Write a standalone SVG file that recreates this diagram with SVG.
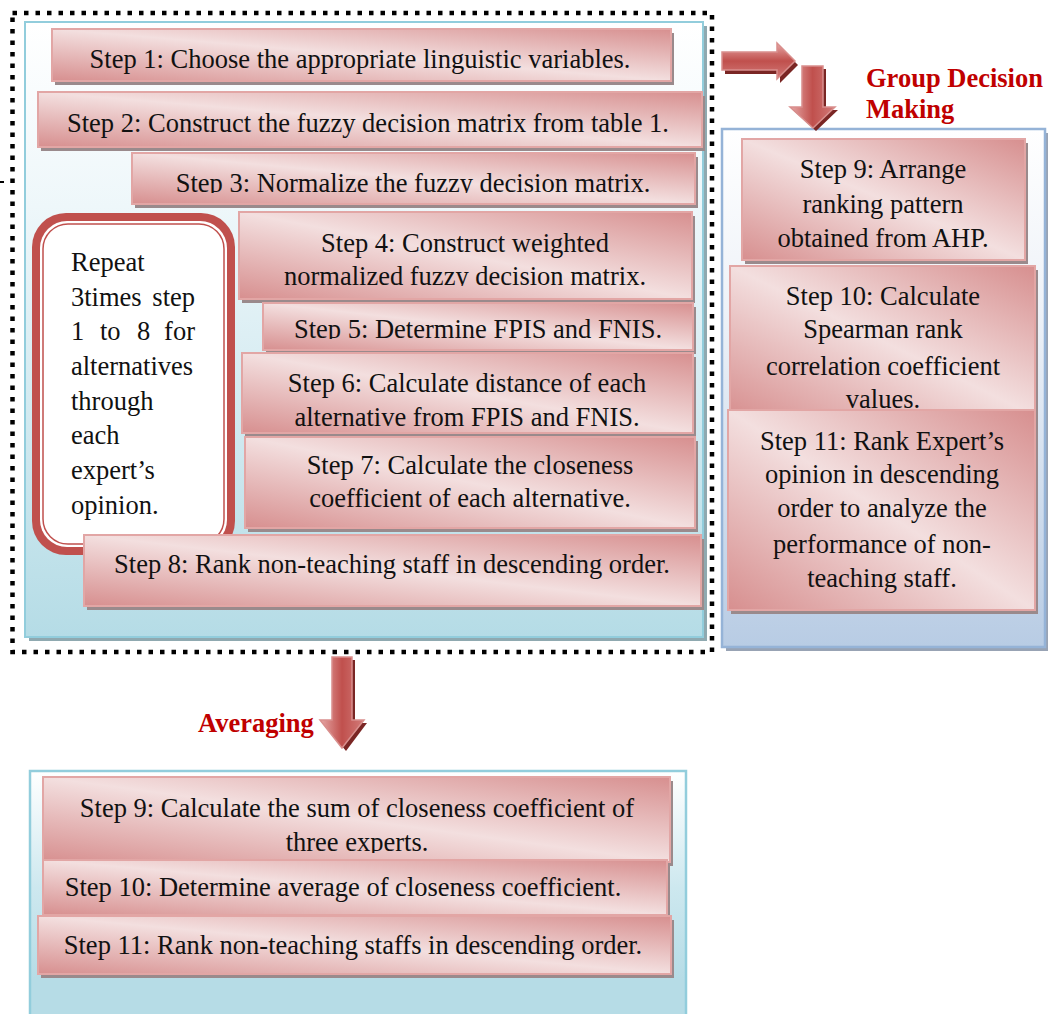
<svg xmlns="http://www.w3.org/2000/svg" width="1048" height="1014" viewBox="0 0 1048 1014">
  <defs>
    <linearGradient id="pink" x1="0" y1="1" x2="1" y2="0">
      <stop offset="0" stop-color="#d78f8f"/>
      <stop offset="0.5" stop-color="#f3dfdf"/>
      <stop offset="1" stop-color="#d78f8f"/>
    </linearGradient>
    <linearGradient id="panelBlue" x1="0" y1="0" x2="0" y2="1">
      <stop offset="0" stop-color="#ffffff"/>
      <stop offset="0.3" stop-color="#eef7fa"/>
      <stop offset="1" stop-color="#b5dce6"/>
    </linearGradient>
    <linearGradient id="panelSteel" x1="0" y1="0" x2="0" y2="1">
      <stop offset="0" stop-color="#ffffff"/>
      <stop offset="0.35" stop-color="#eef2f8"/>
      <stop offset="1" stop-color="#b8cce4"/>
    </linearGradient>
    <linearGradient id="panelLow" x1="0" y1="0" x2="0" y2="1">
      <stop offset="0" stop-color="#ffffff"/>
      <stop offset="0.45" stop-color="#cde8ef"/>
      <stop offset="0.8" stop-color="#b6dce6"/>
      <stop offset="1" stop-color="#b6dce6"/>
    </linearGradient>
    <linearGradient id="arrowV" x1="0" y1="0" x2="1" y2="0">
      <stop offset="0" stop-color="#e6a7a6"/>
      <stop offset="0.5" stop-color="#c0504d"/>
      <stop offset="1" stop-color="#d27b79"/>
    </linearGradient>
    <linearGradient id="arrowH" x1="0" y1="0" x2="0" y2="1">
      <stop offset="0" stop-color="#e6a7a6"/>
      <stop offset="0.5" stop-color="#c0504d"/>
      <stop offset="1" stop-color="#d27b79"/>
    </linearGradient>
    <clipPath id="clipS3"><rect x="130" y="150" width="570" height="43"/></clipPath>
    <clipPath id="clipS4"><rect x="235" y="210" width="460" height="76"/></clipPath>
    <clipPath id="clipS5"><rect x="260" y="300" width="440" height="39"/></clipPath>
    <clipPath id="clipR9"><rect x="740" y="136" width="290" height="111"/></clipPath>
    <clipPath id="clipB9"><rect x="40" y="775" width="640" height="78"/></clipPath>
  </defs>
  <style>
    .sh { fill: #9a8a8c; }
    .bx { fill: url(#pink); stroke: #e2a6a5; stroke-width: 2; }
    .t { font-family: "Liberation Serif", "Times New Roman", serif; font-size: 26.5px; fill: #111111; text-anchor: middle; }
    .tl { font-family: "Liberation Serif", "Times New Roman", serif; font-size: 26.5px; fill: #111111; }
    .lbl { font-family: "Liberation Serif", "Times New Roman", serif; font-size: 26.5px; font-weight: bold; fill: #c00000; }
    .ash { fill: #7a2624; }
    .arr { stroke: #d98f8d; stroke-width: 1.5; }
  </style>

  <!-- panels -->
  <g id="panel-expert">
    <rect x="29" y="26" width="678" height="615" fill="#8fa9b0"/>
    <rect x="25" y="22" width="678" height="615" fill="url(#panelBlue)" stroke="#92cddc" stroke-width="2"/>
  </g>
  <g id="panel-group">
    <rect x="726" y="133" width="323" height="518" fill="#98a3b4"/>
    <rect x="722" y="129" width="323" height="518" fill="url(#panelSteel)" stroke="#95b3d7" stroke-width="2.5"/>
  </g>
  <g id="panel-averaging">
    <rect x="30" y="771" width="656" height="260" fill="url(#panelLow)" stroke="#92cddc" stroke-width="2.5"/>
  </g>

  <!-- dotted frame around the per-expert steps -->
  <g id="frame">
    <rect x="12.5" y="13" width="699.5" height="639" fill="none" stroke="#000" stroke-width="4.5" stroke-dasharray="4.5 7"/>
    <line x1="0" y1="182" x2="4" y2="182" stroke="#000" stroke-width="2"/>
  </g>

  <!-- left column: steps 1-8 -->
  <g id="step1">
    <rect class="sh" x="55" y="33" width="619" height="52"/>
    <rect class="bx" x="52" y="29" width="619" height="52"/>
    <text class="t" x="360" y="68">Step 1: Choose the appropriate linguistic variables.</text>
  </g>
  <g id="step2">
    <rect class="sh" x="41" y="96" width="664" height="55"/>
    <rect class="bx" x="38" y="92" width="664" height="55"/>
    <text class="t" x="368" y="132">Step 2: Construct the fuzzy decision matrix from table 1.</text>
  </g>
  <g id="step3">
    <rect class="sh" x="135" y="157" width="563" height="51"/>
    <rect class="bx" x="132" y="153" width="563" height="51"/>
    <text class="t" x="413" y="192" clip-path="url(#clipS3)">Step 3: Normalize the fuzzy decision matrix.</text>
  </g>

  <g id="repeat-note">
    <rect x="32" y="213" width="203" height="342" rx="34" fill="#c0504d"/>
    <rect x="40" y="221" width="187" height="326" rx="27" fill="#ffffff"/>
    <rect x="43" y="224" width="181" height="320" rx="25" fill="#ffffff" stroke="#c0504d" stroke-width="1.5"/>
    <text class="tl" x="71" y="271">Repeat</text>
    <text class="tl" y="306"><tspan x="71">3times</tspan><tspan x="195" text-anchor="end">step</tspan></text>
    <text class="tl" y="340"><tspan x="71">1</tspan><tspan x="100">to</tspan><tspan x="137">8</tspan><tspan x="195" text-anchor="end">for</tspan></text>
    <text class="tl" x="71" y="375">alternatives</text>
    <text class="tl" x="71" y="410">through</text>
    <text class="tl" x="71" y="444">each</text>
    <text class="tl" x="71" y="479">expert’s</text>
    <text class="tl" x="71" y="514">opinion.</text>
  </g>

  <g id="step4">
    <rect class="sh" x="242" y="216" width="453" height="87"/>
    <rect class="bx" x="239" y="212" width="453" height="87"/>
    <text class="t" x="465" y="252">Step 4: Construct weighted</text>
    <text class="t" x="465" y="285" clip-path="url(#clipS4)">normalized fuzzy decision matrix.</text>
  </g>
  <g id="step5">
    <rect class="sh" x="266" y="307" width="430" height="47"/>
    <rect class="bx" x="263" y="303" width="430" height="47"/>
    <text class="t" x="478" y="338" clip-path="url(#clipS5)">Step 5: Determine FPIS and FNIS.</text>
  </g>
  <g id="step6">
    <rect class="sh" x="245" y="357" width="451" height="80"/>
    <rect class="bx" x="242" y="353" width="451" height="80"/>
    <text class="t" x="467" y="392">Step 6: Calculate distance of each</text>
    <text class="t" x="467" y="426">alternative from FPIS and FNIS.</text>
  </g>
  <g id="step7">
    <rect class="sh" x="248" y="441" width="450" height="91"/>
    <rect class="bx" x="245" y="437" width="450" height="91"/>
    <text class="t" x="470" y="474">Step 7: Calculate the closeness</text>
    <text class="t" x="470" y="507">coefficient of each alternative.</text>
  </g>
  <g id="step8">
    <rect class="sh" x="87" y="539" width="617" height="71"/>
    <rect class="bx" x="84" y="535" width="617" height="71"/>
    <text class="t" x="392" y="573">Step 8: Rank non-teaching staff in descending order.</text>
  </g>

  <!-- right column: group decision steps -->
  <g id="gstep9">
    <rect class="sh" x="745" y="143" width="283" height="121"/>
    <rect class="bx" x="742" y="139" width="283" height="121"/>
    <text class="t" x="883" y="178">Step 9: Arrange</text>
    <text class="t" x="883" y="213">ranking pattern</text>
    <text class="t" x="883" y="247" clip-path="url(#clipR9)">obtained from AHP.</text>
  </g>
  <g id="gstep10">
    <rect class="sh" x="733" y="270" width="305" height="150"/>
    <rect class="bx" x="730" y="266" width="305" height="150"/>
    <text class="t" x="883" y="305">Step 10: Calculate</text>
    <text class="t" x="883" y="338">Spearman rank</text>
    <text class="t" x="883" y="375">correlation coefficient</text>
    <text class="t" x="883" y="408">values.</text>
  </g>
  <g id="gstep11">
    <rect class="sh" x="731" y="414" width="307" height="200"/>
    <rect class="bx" x="728" y="410" width="307" height="200"/>
    <text class="t" x="882" y="450">Step 11: Rank Expert’s</text>
    <text class="t" x="882" y="483">opinion in descending</text>
    <text class="t" x="882" y="517">order to analyze the</text>
    <text class="t" x="882" y="553">performance of non-</text>
    <text class="t" x="882" y="587">teaching staff.</text>
  </g>

  <!-- bottom: averaging steps -->
  <g id="astep9">
    <rect class="sh" x="46" y="781" width="627" height="85"/>
    <rect class="bx" x="43" y="777" width="627" height="85"/>
    <text class="t" x="357" y="817">Step 9: Calculate the sum of closeness coefficient of</text>
    <text class="t" x="357" y="851" clip-path="url(#clipB9)">three experts.</text>
  </g>
  <g id="astep10">
    <rect class="sh" x="46" y="864" width="624" height="55"/>
    <rect class="bx" x="43" y="860" width="624" height="55"/>
    <text class="t" x="343" y="896">Step 10: Determine average of closeness coefficient.</text>
  </g>
  <g id="astep11">
    <rect class="sh" x="41" y="920" width="633" height="58"/>
    <rect class="bx" x="38" y="916" width="633" height="58"/>
    <text class="t" x="353" y="954">Step 11: Rank non-teaching staffs in descending order.</text>
  </g>

  <!-- connectors: block arrows -->
  <g id="connectors">
    <g id="arrow-right">
      <polygon class="ash" points="725,56 780,56 780,47 798,65 780,83 780,74 725,74"/>
      <polygon class="arr" fill="url(#arrowH)" points="722,52 777,52 777,43 795,61 777,79 777,70 722,70"/>
    </g>
    <g id="arrow-down-group">
      <polygon class="ash" points="805,69 826,69 826,110 838,110 816,131 793,110 805,110"/>
      <polygon class="arr" fill="url(#arrowV)" points="802,66 823,66 823,107 835,107 813,128 790,107 802,107"/>
    </g>
    <g id="arrow-down-avg">
      <polygon class="ash" points="335,660 355,660 355,723 367,723 346,751 323,723 335,723"/>
      <polygon class="arr" fill="url(#arrowV)" points="332,657 352,657 352,720 364,720 342,748 320,720 332,720"/>
    </g>
  </g>

  <!-- phase labels -->
  <g id="labels">
    <text class="lbl" x="866" y="87">Group Decision</text>
    <text class="lbl" x="866" y="118">Making</text>
    <text class="lbl" x="198" y="732">Averaging</text>
  </g>
</svg>
